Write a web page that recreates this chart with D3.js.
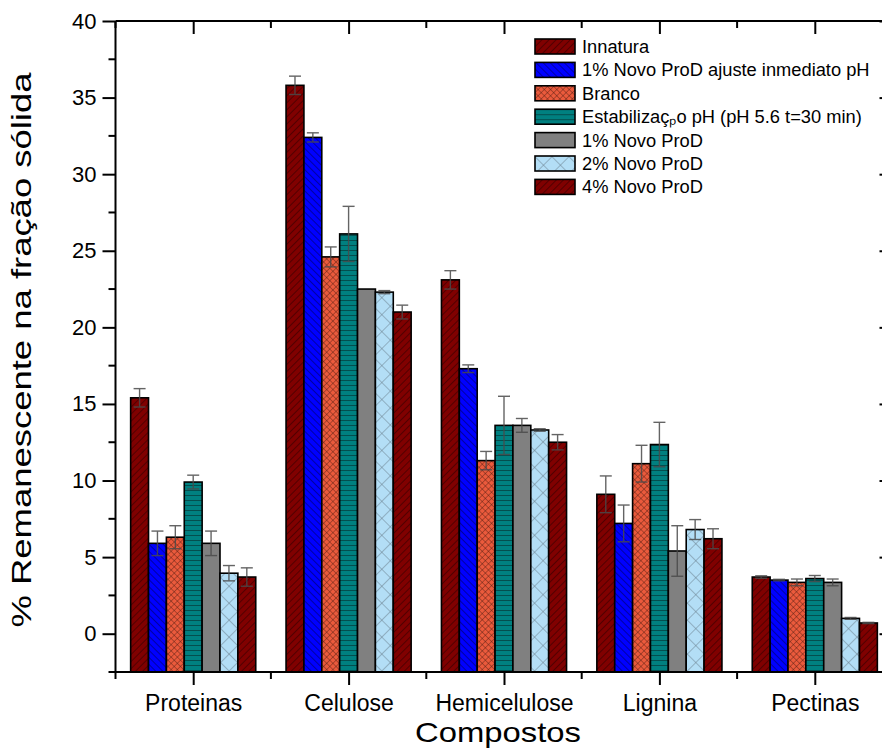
<!DOCTYPE html>
<html>
<head>
<meta charset="utf-8">
<script src="https://cdn.jsdelivr.net/npm/d3@7"></script>
<style>
  html, body { margin: 0; padding: 0; background: #fff; }
  svg { display: block; font-family: "Liberation Sans", Arial, sans-serif; }
</style>
</head>
<body>
<svg id="chart" width="882" height="750"></svg>
<script>
// Compound categories on the x axis
const categories = ["Proteinas", "Celulose", "Hemicelulose", "Lignina", "Pectinas"];

// Treatments (legend order)
const seriesNames = [
  "Innatura",
  "1% Novo ProD ajuste inmediato pH",
  "Branco",
  "Estabilizaçₚo pH (pH 5.6 t=30 min)",
  "1% Novo ProD",
  "2% Novo ProD",
  "4% Novo ProD"
];

// Mean remaining percentage per treatment, one value per category
const innatura   = [15.4, 35.8, 23.1, 9.1, 3.7];
const ajustePH   = [5.9, 32.4, 17.3, 7.2, 3.5];
const branco     = [6.3, 24.6, 11.3, 11.1, 3.35];
const estabPH    = [9.9, 26.1, 13.6, 12.35, 3.6];
const novo1      = [5.9, 22.5, 13.6, 5.4, 3.35];
const novo2      = [3.95, 22.3, 13.3, 6.8, 1.0];
const novo4      = [3.7, 21.0, 12.5, 6.2, 0.7];

// Standard deviations
const innaturaErr = [0.6, 0.6, 0.6, 1.2, 0.08];
const ajustePHErr = [0.8, 0.3, 0.25, 1.2, 0.05];
const brancoErr   = [0.75, 0.65, 0.6, 1.2, 0.22];
const estabPHErr  = [0.45, 1.8, 1.9, 1.45, 0.2];
const novo1Err    = [0.8, 0.0, 0.45, 1.65, 0.22];
const novo2Err    = [0.5, 0.1, 0.08, 0.65, 0.06];
const novo4Err    = [0.6, 0.45, 0.5, 0.65, 0.04];

// y axis ticks
const yMajorTicks = [0, 5, 10, 15, 20, 25, 30, 35, 40];

const seriesValues = [innatura, ajustePH, branco, estabPH, novo1, novo2, novo4];
const seriesErrors = [innaturaErr, ajustePHErr, brancoErr, estabPHErr, novo1Err, novo2Err, novo4Err];
const fillIds = ["pDiagR", "pDiagB", "pCross", "pHoriz", "pGray", "pBigCross", "pDiagR"];

const svg = d3.select("#chart");

// ---------- fill patterns ----------
const defs = svg.append("defs");
function stripePattern(id, bg, stroke, size, angle, sw, both) {
  const p = defs.append("pattern")
    .attr("id", id).attr("patternUnits", "userSpaceOnUse")
    .attr("width", size).attr("height", size)
    .attr("patternTransform", `rotate(${angle})`);
  p.append("rect").attr("width", size).attr("height", size).attr("fill", bg);
  if (sw > 0) {
    p.append("line").attr("x1", 0).attr("y1", 0).attr("x2", 0).attr("y2", size)
      .attr("stroke", stroke).attr("stroke-width", sw);
    if (both) {
      p.append("line").attr("x1", 0).attr("y1", 0).attr("x2", size).attr("y2", 0)
        .attr("stroke", stroke).attr("stroke-width", sw);
    }
  }
}
stripePattern("pDiagR", "#800000", "#1a0000", 5, 45, 0.9, false);
stripePattern("pDiagB", "#0000ff", "#000033", 5, -45, 0.9, false);
stripePattern("pCross", "#ea5a3c", "#4a1a10", 4.4, 45, 0.8, true);
stripePattern("pHoriz", "#008080", "#053838", 5, 90, 1.4, false);
stripePattern("pGray", "#808080", "#808080", 5, 0, 0, false);
stripePattern("pBigCross", "#b3def6", "#6a7f8c", 12, 45, 1, true);

// ---------- scales ----------
const x = d3.scaleLinear().domain([0.5, 5.5]).range([115.5, 892.5]);
const y = d3.scaleLinear().domain([-2.5, 40]).range([672, 21]);
const barW = 0.115;

const plot = svg.append("g");

// ---------- bars ----------
seriesValues.forEach((vals, si) => {
  const off = (si - 3) * barW;
  plot.append("g").selectAll("rect")
    .data(vals)
    .join("rect")
    .attr("x", (d, i) => x(i + 1 + off - barW / 2))
    .attr("width", x(barW) - x(0))
    .attr("y", d => y(d))
    .attr("height", d => y(-2.5) - y(d))
    .attr("fill", `url(#${fillIds[si]})`)
    .attr("stroke", "#000")
    .attr("stroke-width", 1.6);
});

// ---------- error bars ----------
seriesValues.forEach((vals, si) => {
  const off = (si - 3) * barW;
  const g = plot.append("g").attr("stroke", "#4a4a4a").attr("stroke-width", 1.4).attr("opacity", 0.85);
  vals.forEach((v, i) => {
    const e = seriesErrors[si][i];
    if (e <= 0) return;
    const cx = x(i + 1 + off);
    g.append("line").attr("x1", cx).attr("x2", cx).attr("y1", y(v - e)).attr("y2", y(v + e));
    [v - e, v + e].forEach(t => {
      g.append("line").attr("x1", cx - 6).attr("x2", cx + 6).attr("y1", y(t)).attr("y2", y(t));
    });
  });
});

// ---------- axes ----------
const axisStroke = 2;
const yMinor = d3.range(-2.5, 40.01, 2.5).filter(v => v % 5 !== 0);
const xMinor = [0.5, 1.5, 2.5, 3.5, 4.5, 5.5];

// left
const leftAxis = svg.append("g").attr("transform", `translate(${x(0.5)},0)`);
leftAxis.call(d3.axisLeft(y).tickValues(yMajorTicks).tickSize(13).tickPadding(6).tickFormat(d3.format("d")));
leftAxis.append("g").selectAll("line").data(yMinor).join("line")
  .attr("x1", -7).attr("x2", 0).attr("y1", d => y(d)).attr("y2", d => y(d))
  .attr("stroke", "#000").attr("stroke-width", axisStroke);

// right (mirror, inward ticks)
const rightAxis = svg.append("g").attr("transform", `translate(${x(5.5)},0)`);
rightAxis.call(d3.axisRight(y).tickValues(yMajorTicks).tickSize(-13).tickFormat(""));

// bottom
const bottomAxis = svg.append("g").attr("transform", `translate(0,${y(-2.5)})`);
bottomAxis.call(d3.axisBottom(x).tickValues([1, 2, 3, 4, 5]).tickSize(13).tickPadding(8)
  .tickFormat(d => categories[d - 1]));
bottomAxis.append("g").selectAll("line").data(xMinor).join("line")
  .attr("x1", d => x(d)).attr("x2", d => x(d)).attr("y1", 0).attr("y2", 7)
  .attr("stroke", "#000").attr("stroke-width", axisStroke);

// top (mirror, inward ticks)
const topAxis = svg.append("g").attr("transform", `translate(0,${y(40)})`);
topAxis.call(d3.axisTop(x).tickValues([1, 2, 3, 4, 5]).tickSize(-13).tickFormat(""));
topAxis.append("g").selectAll("line").data(xMinor).join("line")
  .attr("x1", d => x(d)).attr("x2", d => x(d)).attr("y1", 0).attr("y2", 7)
  .attr("stroke", "#000").attr("stroke-width", axisStroke);

[leftAxis, rightAxis, bottomAxis, topAxis].forEach(a => {
  a.selectAll(".domain").attr("stroke", "#000").attr("stroke-width", axisStroke);
  a.selectAll(".tick line").attr("stroke", "#000").attr("stroke-width", axisStroke);
  a.selectAll("text").attr("fill", "#000").attr("font-family", "Liberation Sans, Arial, sans-serif");
});
// plain domain lines without end caps
leftAxis.select(".domain").attr("d", `M0,${y(40)}V${y(-2.5)}`);
rightAxis.select(".domain").attr("d", `M0,${y(40)}V${y(-2.5)}`);
bottomAxis.select(".domain").attr("d", `M${x(0.5)},0H${x(5.5)}`);
topAxis.select(".domain").attr("d", `M${x(0.5)},0H${x(5.5)}`);

leftAxis.selectAll("text").attr("font-size", 22);
bottomAxis.selectAll("text").attr("font-size", 23).attr("dy", "0.78em");

// ---------- axis titles ----------
svg.append("text")
  .attr("transform", `translate(31,350) rotate(-90)`)
  .attr("text-anchor", "middle")
  .attr("font-size", 27)
  .attr("textLength", 555).attr("lengthAdjust", "spacingAndGlyphs")
  .text("% Remanescente na fração sólida");

svg.append("text")
  .attr("x", x(3) - 6).attr("y", 742)
  .attr("text-anchor", "middle")
  .attr("font-size", 28)
  .attr("textLength", 166).attr("lengthAdjust", "spacingAndGlyphs")
  .text("Compostos");

// ---------- legend ----------
const legend = svg.append("g").attr("transform", "translate(535,39)");
seriesNames.forEach((name, i) => {
  const row = legend.append("g").attr("transform", `translate(0,${i * 23.4})`);
  row.append("rect").attr("width", 40).attr("height", 15)
    .attr("fill", `url(#${fillIds[i]})`).attr("stroke", "#000").attr("stroke-width", 1.6);
  row.append("text").attr("x", 47).attr("y", 14).attr("font-size", 18.3).text(name);
});
</script>
</body>
</html>
